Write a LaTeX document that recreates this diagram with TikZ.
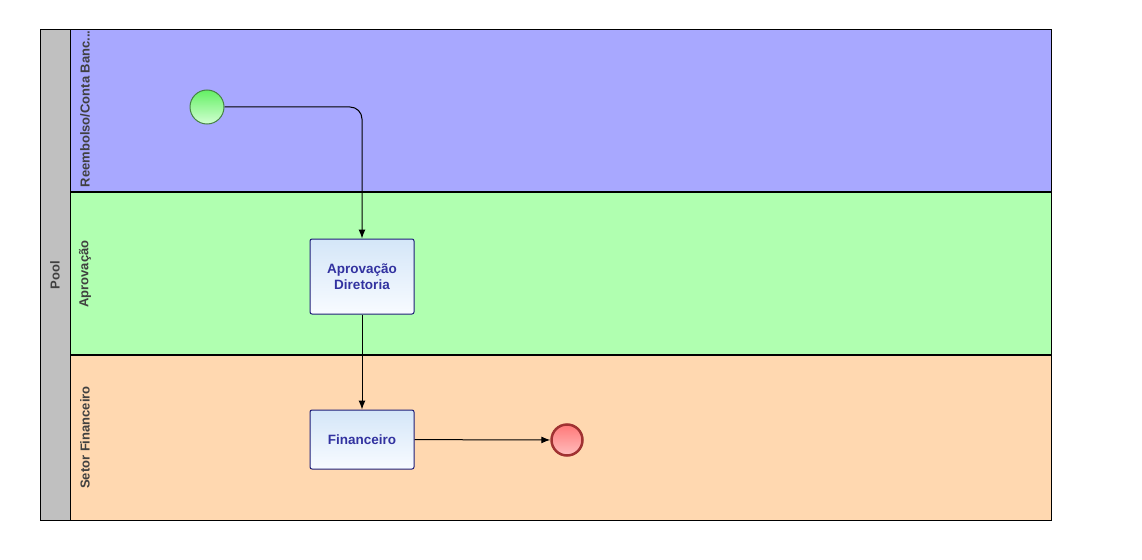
\documentclass[tikz,border=0pt]{standalone}
\usepackage{fontspec}
\setmainfont{Liberation Sans}
\usetikzlibrary{arrows.meta}

\definecolor{laneblue}{RGB}{168,168,255}
\definecolor{lanegreen}{RGB}{176,255,176}
\definecolor{laneorange}{RGB}{255,216,176}
\definecolor{poolgray}{RGB}{192,192,192}
\definecolor{tasktext}{RGB}{50,50,160}
\definecolor{taskborder}{RGB}{30,30,120}
\definecolor{labelgray}{RGB}{64,64,64}

\begin{document}
\begin{tikzpicture}[x=1pt,y=-1pt,->,>={Latex[length=9pt,width=7pt]},line width=1pt,
  task node/.style={draw=taskborder,line width=1pt,rounded corners=2pt,top color={rgb,255:red,212;green,230;blue,248},bottom color={rgb,255:red,248;green,251;blue,255},minimum width=104pt,align=center,text=tasktext,font=\fontsize{13.5}{16}\selectfont\bfseries},
  start node/.style={circle,draw={rgb,255:red,70;green,130;blue,70},line width=1pt,top color={rgb,255:red,100;green,240;blue,100},bottom color={rgb,255:red,210;green,255;blue,210},minimum size=34pt,inner sep=0pt},
  end node/.style={circle,draw={rgb,255:red,160;green,50;blue,50},line width=2.5pt,top color={rgb,255:red,255;green,120;blue,120},bottom color={rgb,255:red,255;green,190;blue,190},minimum size=31pt,inner sep=0pt},
  lane label/.style={rotate=90,text=labelgray,font=\fontsize{13}{15}\selectfont\bfseries}]
  \useasboundingbox[fill=white] (0,0) rectangle (1142,559);

  % lanes
  \fill[laneblue] (70,30) rectangle (1051,192);
  \fill[lanegreen] (70,192) rectangle (1051,355);
  \fill[laneorange] (70,355) rectangle (1051,520);
  \fill[poolgray] (40,30) rectangle (70,520);
  \draw[-] (40,30) rectangle (1051,520);
  \draw[-] (70,30) -- (70,520);
  \draw[-,line width=1.8pt] (70,192) -- (1051,192);
  \draw[-,line width=1.8pt] (70,355) -- (1051,355);

  \node[lane label] (pool) at (55,275) {Pool};
  \node[lane label,anchor=west] (reemb) at (85,191) {Reembolso/Conta Banc...};
  \node[lane label] (aprov) at (85,274) {Aprovação};
  \node[lane label] (setor) at (85,437.5) {Setor Financeiro};

  \node[start node] (start) at (207,107) {};
  \node[task node,minimum height=75pt] (dir) at (362,276.5) {Aprovação\\Diretoria};
  \node[task node,minimum height=59pt] (fin) at (362,439.5) {Financeiro};
  \node[end node] (end) at (567,440) {};

\draw[rounded corners=12pt] (start) -| (dir);
\path
  (dir) edge (fin)
  (fin) edge (end)
;
\end{tikzpicture}
\end{document}
